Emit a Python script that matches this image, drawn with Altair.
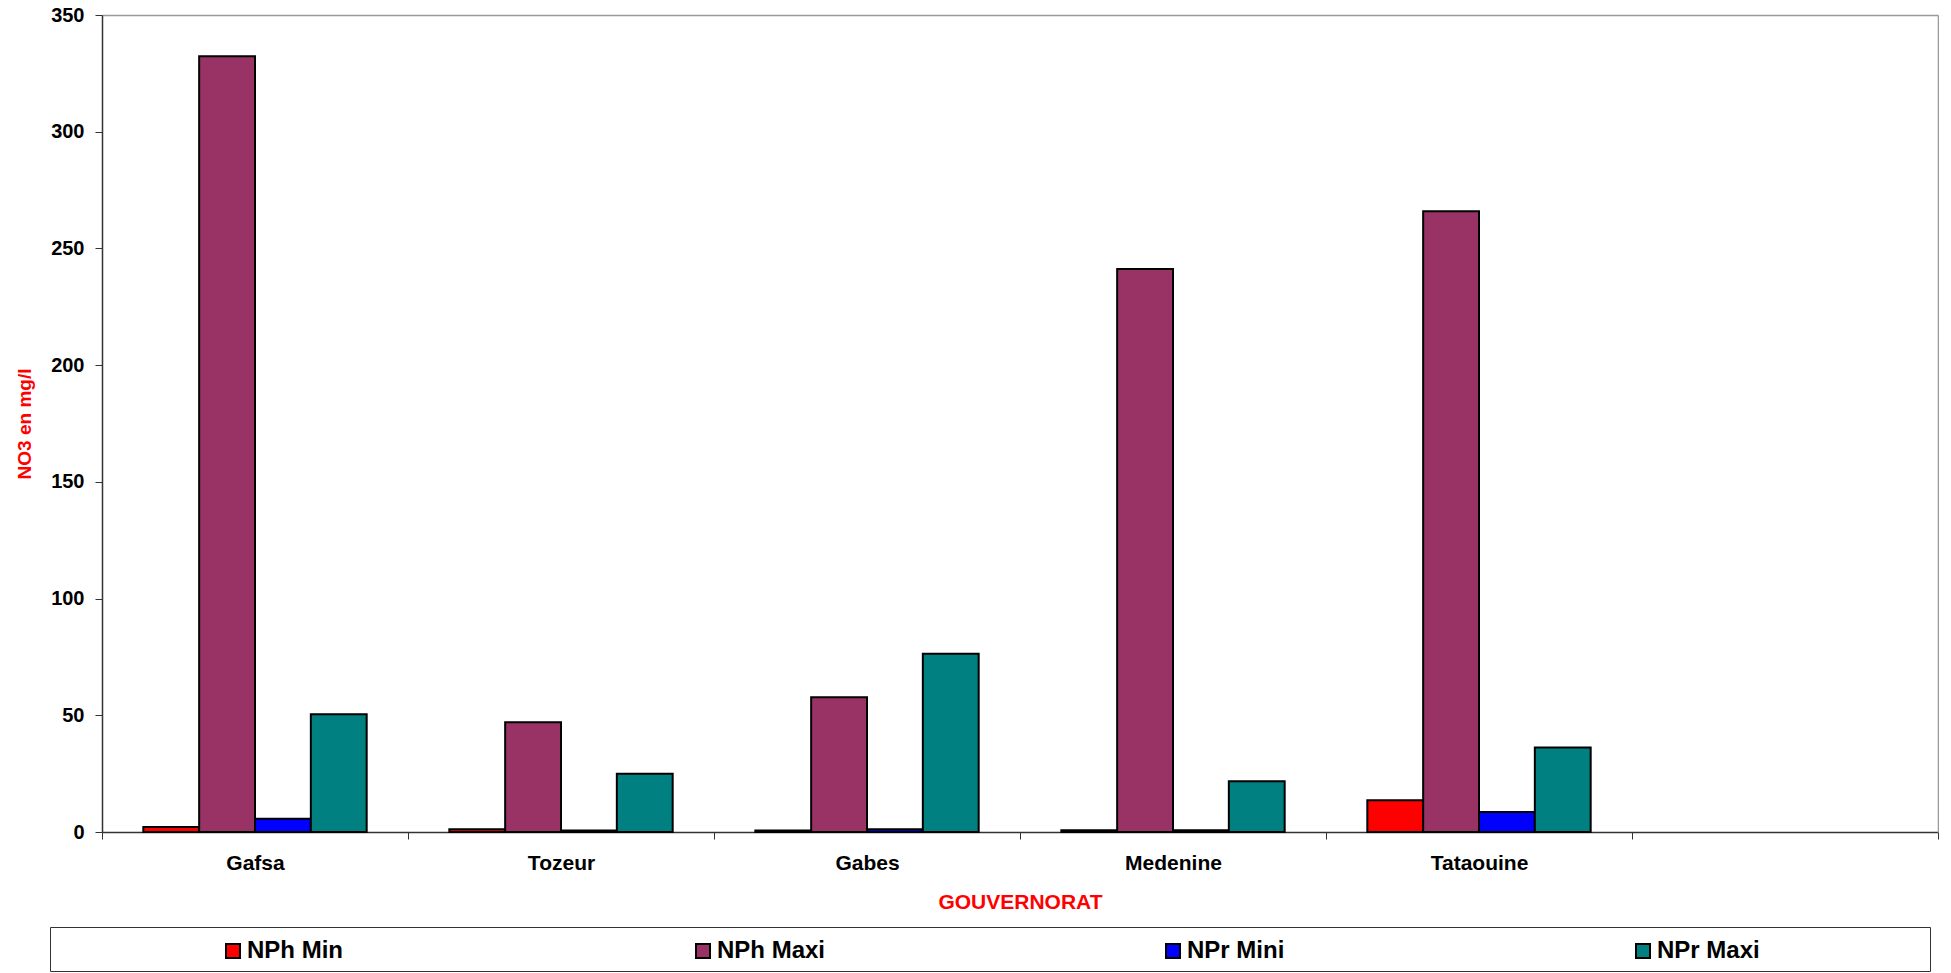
import altair as alt
import pandas as pd

# Categories (the last, blank one is an empty slot on the axis)
governorates = ["Gafsa", "Tozeur", "Gabes", "Medenine", "Tataouine", " "]
series = ["NPh Min", "NPh Maxi", "NPr Mini", "NPr Maxi"]
colors = ["#FF0000", "#993366", "#0000FF", "#008080"]

# NO3 concentrations (mg/l) per governorate, one list per series
nph_min = [2.1, 1.2, 0.6, 0.7, 13.6]
nph_maxi = [332.3, 47.0, 57.7, 241.2, 265.9]
npr_mini = [5.7, 0.6, 1.2, 0.7, 8.6]
npr_maxi = [50.4, 25.0, 76.4, 21.7, 36.2]

y_ticks = [0, 50, 100, 150, 200, 250, 300, 350]

rows = []
for name, vals in zip(series, [nph_min, nph_maxi, npr_mini, npr_maxi]):
    for gov, v in zip(governorates, vals):
        rows.append({"gouvernorat": gov, "series": name, "value": v})
df = pd.DataFrame(rows)

FONT = "Liberation Sans"
RED = "#FF0000"
AXIS_DARK = "#333333"
FRAME = "#999999"

x_scale = alt.Scale(domain=governorates, range=[52, 1888], paddingInner=0, paddingOuter=0)
y_scale = alt.Scale(domain=[0, 350], nice=False)
off_scale = alt.Scale(domain=series, paddingInner=0, paddingOuter=0.74)
color_scale = alt.Scale(domain=series, range=colors)

bars = alt.Chart(df).mark_bar(stroke="black", strokeWidth=2).encode(
    x=alt.X(
        "gouvernorat:N",
        scale=x_scale,
        sort=governorates,
        axis=alt.Axis(
            orient="bottom",
            title="GOUVERNORAT",
            titleColor=RED,
            titleFont=FONT,
            titleFontSize=21,
            titleFontWeight="bold",
            titlePadding=18,
            labelFont=FONT,
            labelFontSize=21,
            labelFontWeight="bold",
            labelColor="black",
            labelAngle=0,
            labelPadding=13,
            tickBand="extent",
            tickSize=7,
            tickColor=AXIS_DARK,
            domainColor=AXIS_DARK,
            domainWidth=1.5,
            grid=False,
        ),
    ),
    y=alt.Y(
        "value:Q",
        scale=y_scale,
        axis=alt.Axis(
            orient="left",
            offset=-52,
            values=y_ticks,
            title="NO3 en mg/l",
            titleColor=RED,
            titleFont=FONT,
            titleFontSize=19,
            titleFontWeight="bold",
            titlePadding=16,
            labelFont=FONT,
            labelFontSize=20,
            labelFontWeight="bold",
            labelColor="black",
            labelPadding=11,
            tickSize=7,
            tickColor=AXIS_DARK,
            domainColor=AXIS_DARK,
            domainWidth=1.5,
            grid=False,
        ),
    ),
    xOffset=alt.XOffset("series:N", scale=off_scale, sort=series),
    color=alt.Color("series:N", scale=color_scale, legend=None),
)

# Invisible copy of the bars that carries the grey top and right frame lines
frame = alt.Chart(df).mark_bar(opacity=0).encode(
    x=alt.X(
        "gouvernorat:N",
        scale=x_scale,
        sort=governorates,
        axis=alt.Axis(orient="top", labels=False, ticks=False, title=None,
                      domainColor=FRAME, domainWidth=1.5, grid=False),
    ),
    y=alt.Y(
        "value:Q",
        scale=y_scale,
        axis=alt.Axis(orient="right", labels=False, ticks=False, title=None,
                      domainColor=FRAME, domainWidth=1.5, grid=False),
    ),
    xOffset=alt.XOffset("series:N", scale=off_scale, sort=series),
)

main = alt.layer(bars, frame).resolve_axis(x="independent", y="independent").properties(
    width=1888, height=817
)

# Legend row: one evenly spaced entry per series inside a framed box
leg_df = pd.DataFrame({"series": series})
lx = alt.X("series:N", scale=alt.Scale(domain=series, paddingInner=0, paddingOuter=0),
           sort=series, axis=None)
squares = alt.Chart(leg_df).mark_square(
    size=196, stroke="black", strokeWidth=2, opacity=1, xOffset=-52, yOffset=2
).encode(
    x=lx,
    color=alt.Color("series:N", scale=color_scale, legend=None),
)
labels = alt.Chart(leg_df).mark_text(
    align="left", dx=-38, dy=2, font=FONT, fontSize=24, fontWeight="bold", color="black"
).encode(x=lx, text="series:N")

legend = alt.layer(squares, labels).properties(
    width=1880, height=44, view=alt.ViewBackground(stroke=AXIS_DARK, strokeWidth=1)
)

chart = (
    alt.vconcat(main, legend, spacing=14)
    .configure_view(strokeWidth=0)
    .properties(padding={"left": 15, "top": 5, "right": 0, "bottom": 0}, background="white")
)

chart.save("out.html", embed_options={"renderer": "svg", "actions": False})
